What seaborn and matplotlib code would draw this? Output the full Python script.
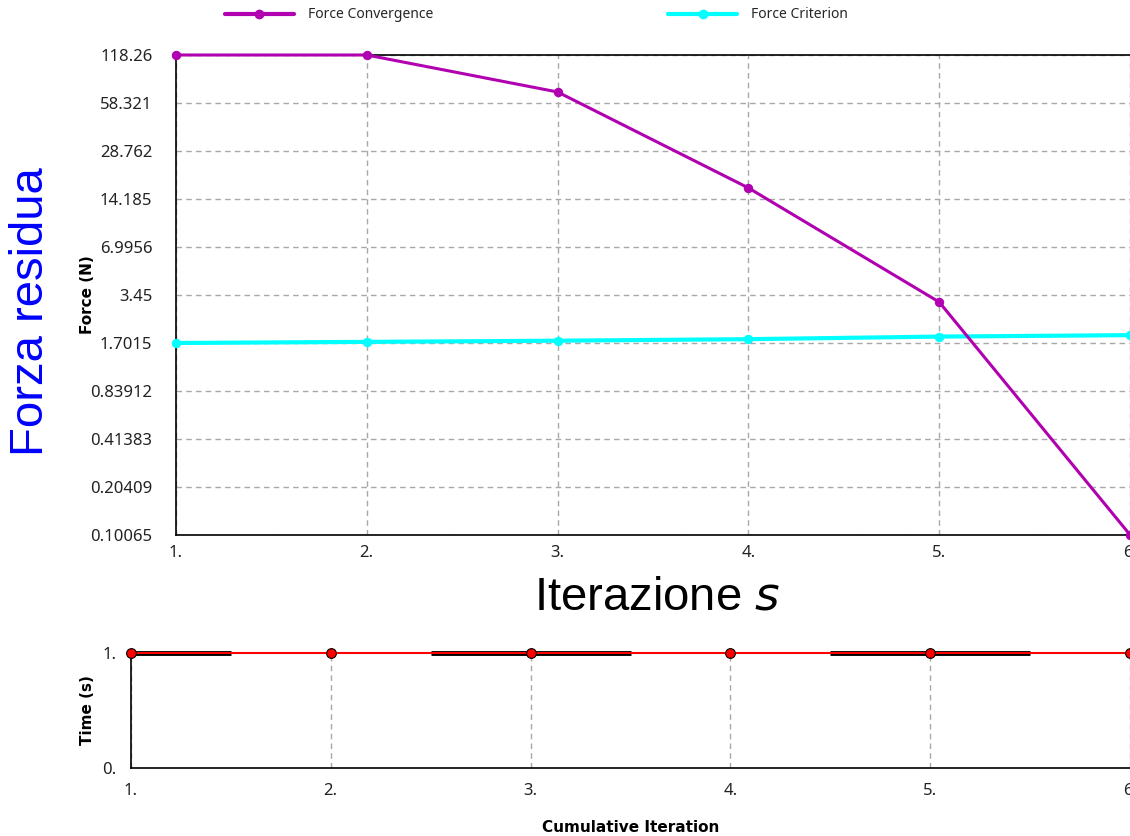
import numpy as np
import pandas as pd
import matplotlib
matplotlib.use("Agg")
import matplotlib.pyplot as plt
from matplotlib.lines import Line2D
import seaborn as sns

# data
iterations = [1, 2, 3, 4, 5, 6]
force_convergence = [118.26, 118.26, 68.6, 16.7, 3.11, 0.101]
force_criterion = [1.7015, 1.73, 1.76, 1.80, 1.87, 1.91]
time_values = [1.0, 1.0, 1.0, 1.0, 1.0, 1.0]
force_ticks = [118.26, 58.321, 28.762, 14.185, 6.9956, 3.45, 1.7015,
               0.83912, 0.41383, 0.20409, 0.10065]
time_ticks = [0.0, 1.0]
# substeps highlighted in the time bar (start, end)
band_start = [1.0, 2.5, 4.5]
band_end = [1.5, 3.5, 5.5]

purple = "#b000b0"
cyan = "#00ffff"
grid_col = "#a8a8a8"
txt_col = "#222222"

sns.set_style("white")
plt.rcParams["font.family"] = ["Noto Sans", "DejaVu Sans"]
bold_font = dict(family="DejaVu Sans", fontweight="bold", fontsize=11, color="black")

df = pd.DataFrame({"it": iterations, "conv": force_convergence,
                   "crit": force_criterion, "time": time_values})

fig = plt.figure(figsize=(11.3, 8.36), dpi=100)
W, H = 1130, 836

# ---- top chart: force
ax = fig.add_axes([176 / W, 1 - 535 / H, (1130 - 176) / W, 480 / H])
sns.lineplot(data=df, x="it", y="crit", ax=ax, color=cyan, lw=3,
             marker="o", ms=6, mec=cyan, clip_on=False, zorder=4)
sns.lineplot(data=df, x="it", y="conv", ax=ax, color=purple, lw=2.2,
             marker="o", ms=6, mec=purple, clip_on=False, zorder=5)
ax.set_yscale("log")
ax.set_ylim(force_ticks[-1], force_ticks[0])
ax.set_xlim(iterations[0], iterations[-1])
ax.set_yticks(force_ticks)
ax.set_yticklabels([str(t) for t in force_ticks])
ax.yaxis.set_minor_locator(matplotlib.ticker.NullLocator())
ax.set_xticks(iterations)
ax.set_xticklabels([f"{i}." for i in iterations])
ax.grid(True, ls=(0, (4, 3)), color=grid_col, lw=1)
ax.tick_params(axis="both", length=7, width=1, color=grid_col,
               labelsize=12, labelcolor=txt_col, direction="out")
ax.tick_params(axis="y", pad=10)
ax.tick_params(axis="x", pad=0)
for s in ["left", "bottom", "top"]:
    ax.spines[s].set_color("black")
    ax.spines[s].set_linewidth(1.2)
ax.spines["right"].set_visible(False)
ax.set_xlabel("")
ax.set_ylabel("Force (N)", **bold_font)
ax.yaxis.set_label_coords((95 - 176) / 954, 0.5)

# ---- bottom chart: time
bx = fig.add_axes([131 / W, 1 - 768 / H, (1130 - 131) / W, 115 / H])
bx.hlines([1.0] * len(band_start), band_start, band_end, color="black",
          lw=3.5, zorder=2, clip_on=False)
sns.lineplot(data=df, x="it", y="time", ax=bx, color="red", lw=1.5,
             marker="o", ms=7, mec="black", mew=0.8, clip_on=False, zorder=5)
bx.set_ylim(0, 1)
bx.set_xlim(iterations[0], iterations[-1])
bx.set_yticks(time_ticks)
bx.set_yticklabels([f"{int(t)}." for t in time_ticks])
bx.set_xticks(iterations)
bx.set_xticklabels([f"{i}." for i in iterations])
bx.grid(True, axis="x", ls=(0, (4, 3)), color=grid_col, lw=1)
bx.tick_params(axis="both", length=7, width=1, color=grid_col,
               labelsize=12, labelcolor=txt_col, direction="out")
bx.tick_params(axis="x", pad=4)
for s in ["left", "bottom"]:
    bx.spines[s].set_color("black")
    bx.spines[s].set_linewidth(1.2)
bx.spines["top"].set_visible(False)
bx.spines["right"].set_visible(False)
bx.set_xlabel("")
bx.set_ylabel("Time (s)", **bold_font)
bx.yaxis.set_label_coords((95 - 131) / 999, 0.5)

fig.text(631 / W, 1 - 828 / H, "Cumulative Iteration", ha="center",
         va="center", **bold_font)

# ---- legend
handles = [
    Line2D([], [], color=purple, lw=3, marker="o", ms=6),
    Line2D([], [], color=cyan, lw=3, marker="o", ms=6),
]
fig.legend(handles, ["Force Convergence", "Force Criterion"], ncol=2,
           loc="center left", bbox_to_anchor=(212 / W, 1 - 15 / H),
           frameon=False, fontsize=10, handlelength=5.0, handletextpad=1.0,
           columnspacing=16.9)

# ---- overlaid annotations
fig.text(31 / W, 1 - 312 / H, "Forza residua", rotation=90, ha="center",
         va="center", fontsize=34, color="blue", family="Liberation Sans")
fig.text(657 / W, 1 - 598 / H, r"Iterazione $\mathit{s}$", ha="center",
         va="center", fontsize=34, color="black", family="Liberation Sans")

fig.savefig("out.png", dpi=100)
